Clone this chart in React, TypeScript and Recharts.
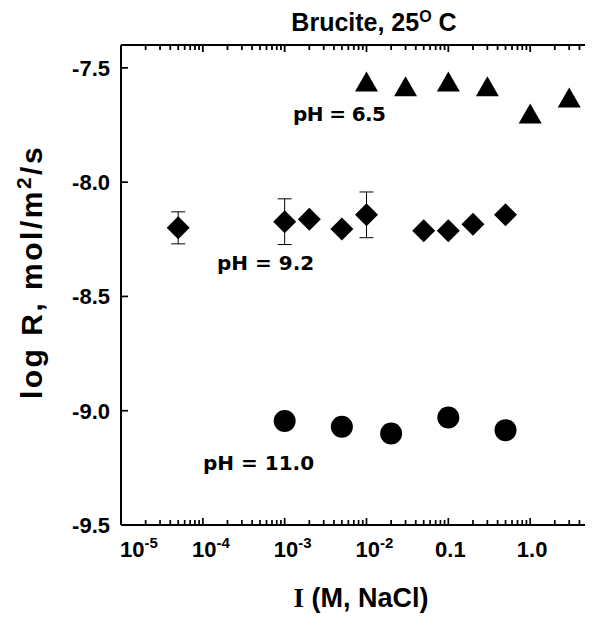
import React from "react";
import { ScatterChart, Scatter, XAxis, YAxis, ErrorBar, ReferenceLine } from "recharts";

// axis ticks
const decades = [1e-5, 1e-4, 1e-3, 1e-2, 0.1, 1, 10];
const decadeBase = ["10", "10", "10", "10", "0.1", "1.0", ""];
const decadeSup = ["-5", "-4", "-3", "-2", "", "", ""];
const minorSteps = [2, 3, 4, 5, 6, 7, 8, 9];
const yTicks = [-9.5, -9.0, -8.5, -8.0, -7.5];
const yBottom = -9.5;
const yTop = -7.4;

// pH = 6.5 (triangles)
const acidI = [0.01, 0.03, 0.1, 0.3, 1, 3];
const acidLogR = [-7.56, -7.58, -7.56, -7.58, -7.7, -7.63];

// pH = 9.2 (diamonds)
const midI = [5e-5, 1e-3, 2e-3, 5e-3, 0.01, 0.05, 0.1, 0.2, 0.5];
const midLogR = [-8.2, -8.173, -8.162, -8.205, -8.143, -8.213, -8.213, -8.184, -8.143];
const midErr = [0.07, 0.1, 0, 0, 0.1, 0, 0, 0, 0];

// pH = 11.0 (circles)
const baseI = [1e-3, 5e-3, 0.02, 0.1, 0.5];
const baseLogR = [-9.045, -9.07, -9.1, -9.03, -9.085];

const acidData = acidI.map((x, i) => ({ x, y: acidLogR[i] }));
const midData = midI.map((x, i) => ({ x, y: midLogR[i], err: midErr[i] }));
const baseData = baseI.map((x, i) => ({ x, y: baseLogR[i] }));

const xTicks = decades.slice(0, -1).flatMap((d) => [d, ...minorSteps.map((k) => k * d)]).concat([10]);

const FONT = "'Liberation Sans', Arial, sans-serif";
const CHART_H = 609;
const TOP = 37;
const X_AXIS_H = 92;
const PLOT_H = CHART_H - TOP - X_AXIS_H;
const PX = (yTop - yBottom) / PLOT_H; // data units per pixel

const isMajor = (v: number) => decades.findIndex((d) => Math.abs(v - d) / d < 1e-6);

const BottomTick = (props: any) => {
  const { x, y, payload } = props;
  const idx = isMajor(payload.value);
  const major = idx >= 0;
  const sup = major ? decadeSup[idx] : "";
  const nudge = idx === 0 ? 18 : sup ? 8 : 2;
  return (
    <g>
      <line x1={x} x2={x} y1={y} y2={y - (major ? 7 : 5)} stroke="#000" strokeWidth={1.7} />
      {major && decadeBase[idx] && (
        <text x={x + nudge} y={y + 32} textAnchor="middle" fontFamily={FONT} fontWeight="bold" fontSize={22} fill="#000">
          <tspan>{decadeBase[idx]}</tspan>
          {sup && (
            <tspan dy={-9} fontSize={15}>
              {sup}
            </tspan>
          )}
        </text>
      )}
    </g>
  );
};

const LeftTick = (props: any) => {
  const { x, y, payload } = props;
  return (
    <g>
      <line x1={x} x2={x + 7} y1={y} y2={y} stroke="#000" strokeWidth={1.7} />
      <text x={x - 11} y={y} dy="0.36em" textAnchor="end" fontFamily={FONT} fontWeight="bold" fontSize={22} fill="#000">
        {payload.value.toFixed(1)}
      </text>
    </g>
  );
};

const Triangle = ({ cx, cy }: any) => (
  <path d={`M${cx},${cy - 10} L${cx + 11.5},${cy + 10} L${cx - 11.5},${cy + 10} Z`} fill="#000" />
);
const Diamond = ({ cx, cy }: any) => (
  <path d={`M${cx},${cy - 11.5} L${cx + 11.5},${cy} L${cx},${cy + 11.5} L${cx - 11.5},${cy} Z`} fill="#000" />
);
const Dot = ({ cx, cy }: any) => <circle cx={cx} cy={cy} r={11} fill="#000" />;

export default function App() {
  const axisLine = { stroke: "#000", strokeWidth: 2 };
  return (
    <div style={{ position: "relative", width: 585, height: 617, overflow: "hidden", background: "#fff" }}>
      <ScatterChart width={604} height={CHART_H} margin={{ top: TOP, right: 0, left: 0, bottom: 0 }}>
        <XAxis
          type="number"
          scale="log"
          dataKey="x"
          domain={[1e-5, 10]}
          allowDataOverflow
          ticks={xTicks}
          interval={0}
          height={X_AXIS_H}
          tickSize={0}
          tickMargin={0}
          tickLine={false}
          axisLine={axisLine}
          tick={<BottomTick />}
        />
        <YAxis
          type="number"
          dataKey="y"
          domain={[yBottom, yTop]}
          allowDataOverflow
          ticks={yTicks}
          interval={0}
          width={113}
          tickSize={0}
          tickMargin={0}
          tickLine={false}
          axisLine={axisLine}
          tick={<LeftTick />}
        />
        {/* top border with inward ticks */}
        <ReferenceLine y={yTop} stroke="#000" strokeWidth={2} ifOverflow="visible" />
        {xTicks.map((v) => (
          <ReferenceLine
            key={v}
            segment={[
              { x: v, y: yTop },
              { x: v, y: yTop - (isMajor(v) >= 0 ? 7 : 5) * PX },
            ]}
            stroke="#000"
            strokeWidth={1.8}
            ifOverflow="visible"
          />
        ))}
        <Scatter data={acidData} shape={Triangle} isAnimationActive={false} />
        <Scatter data={midData} shape={Diamond} isAnimationActive={false}>
          <ErrorBar dataKey="err" direction="y" width={7} stroke="#000" strokeWidth={1} />
        </Scatter>
        <Scatter data={baseData} shape={Dot} isAnimationActive={false} />
      </ScatterChart>
      <svg width={585} height={617} style={{ position: "absolute", left: 0, top: 0, pointerEvents: "none" }}>
        <text x={366} y={23} textAnchor="middle" fontFamily={FONT} fontWeight="bold" fontSize={25} fill="#000">
          <tspan>Brucite, 25</tspan>
          <tspan dy={-9} fontSize={16}>
            O
          </tspan>
          <tspan dy={9}> C</tspan>
        </text>
        <g fontFamily="'DejaVu Sans', Verdana, sans-serif" fontWeight="bold" fontSize={20} fill="#000">
          <text x={285} y={113} letterSpacing={-0.6}>pH = 6.5</text>
          <text x={209} y={262}>pH = 9.2</text>
          <text x={195} y={462}>pH = 11.0</text>
        </g>
        <text x={353} y={599} textAnchor="middle" fontFamily={FONT} fontWeight="bold" fontSize={27} fill="#000">
          <tspan fontFamily="'Liberation Serif', 'Times New Roman', serif">I</tspan>
          <tspan> (M, NaCl)</tspan>
        </text>
        <text
          x={34}
          y={264}
          transform="rotate(-90 34 264)"
          textAnchor="middle"
          fontFamily={FONT}
          fontWeight="bold"
          fontSize={30}
          letterSpacing={2.5}
          fill="#000"
        >
          <tspan>log R, mol/m</tspan>
          <tspan dy={-11} fontSize={21}>
            2
          </tspan>
          <tspan dy={11}>/s</tspan>
        </text>
      </svg>
    </div>
  );
}
